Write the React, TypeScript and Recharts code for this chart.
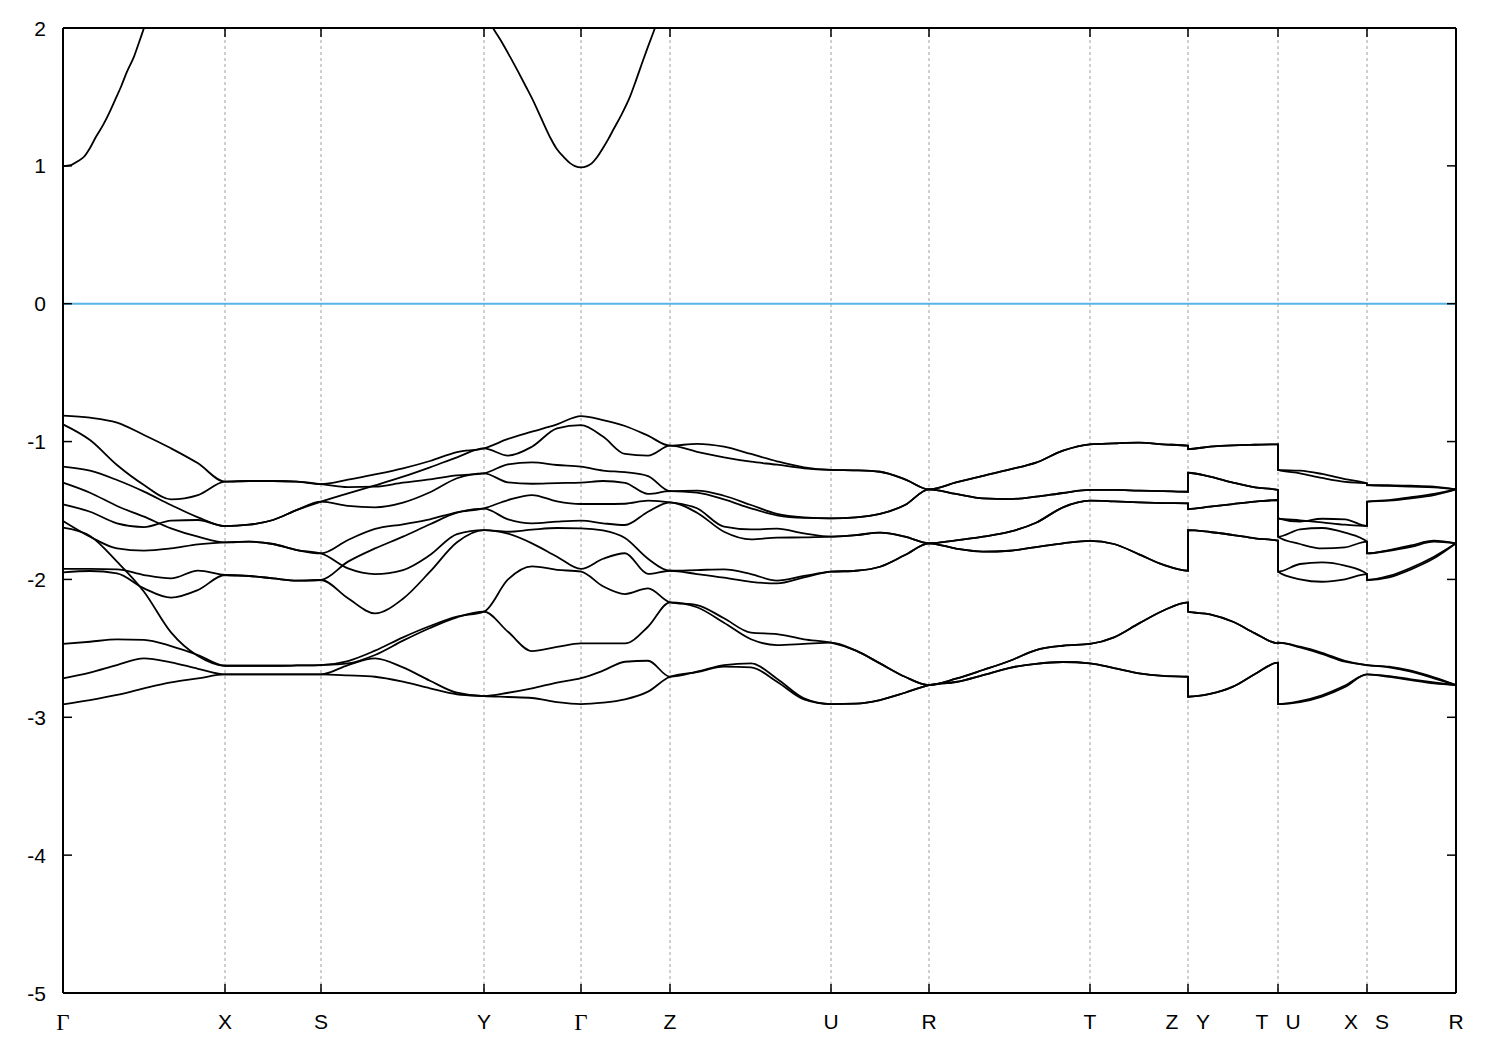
import React from 'react';
import { LineChart, Line, XAxis, YAxis, CartesianGrid, ReferenceLine } from 'recharts';

// High-symmetry points along the k-path (x in path-length units) and their labels
const kTicks = [0, 162, 258, 421, 518, 607, 768, 866, 1027, 1125, 1215, 1304, 1393];
const kLabels = ['Γ', 'X', 'S', 'Y', 'Γ', 'Z', 'U', 'R', 'T', 'Z|Y', 'T|U', 'X|S', 'R'];
const energyTicks = [-5, -4, -3, -2, -1, 0, 1, 2];

// sampled k positions (duplicates = path discontinuities Z|Y, T|U, X|S)
const kPath = [
  0, 27, 54, 81, 108, 135, 162,
  186, 210, 234, 258,
  285, 312, 340, 367, 394, 421,
  445, 469, 494, 518,
  540, 562, 585, 607,
  634, 661, 688, 714, 741, 768,
  793, 817, 842, 866,
  893, 920, 947, 973, 1000, 1027,
  1051, 1076, 1100, 1125,
  1125,
  1147, 1170, 1192, 1215,
  1215,
  1237, 1259, 1282, 1304,
  1304,
  1326, 1348, 1371, 1393,
];

const band1 = [
  -0.812, -0.827, -0.863, -0.952, -1.049, -1.158, -1.291,
  -1.286, -1.286, -1.291, -1.308,
  -1.276, -1.238, -1.194, -1.141, -1.076, -1.049,
  -0.981, -0.928, -0.875, -0.815,
  -0.844, -0.887, -0.957, -1.030,
  -1.016, -1.037, -1.090, -1.143, -1.187, -1.206,
  -1.209, -1.219, -1.274, -1.347,
  -1.296, -1.248, -1.202, -1.153, -1.066, -1.020,
  -1.013, -1.008, -1.020, -1.030,
  -1.054,
  -1.037, -1.027, -1.023, -1.020,
  -1.206,
  -1.211, -1.235, -1.272, -1.303,
  -1.315,
  -1.317, -1.320, -1.327, -1.347,
];
const band2 = [
  -0.875, -0.989, -1.170, -1.315, -1.419, -1.388, -1.291,
  -1.286, -1.286, -1.291, -1.308,
  -1.330, -1.327, -1.298, -1.274, -1.245, -1.230,
  -1.165, -1.151, -1.170, -1.182,
  -1.210, -1.222, -1.250, -1.359,
  -1.356, -1.393, -1.460, -1.525, -1.550, -1.557,
  -1.550, -1.525, -1.460, -1.347,
  -1.380, -1.412, -1.417, -1.400, -1.373, -1.351,
  -1.351, -1.356, -1.359, -1.364,
  -1.226,
  -1.255, -1.298, -1.332, -1.351,
  -1.557,
  -1.571, -1.586, -1.603, -1.612,
  -1.436,
  -1.424, -1.404, -1.380, -1.347,
];
const band3 = [
  -1.182, -1.211, -1.279, -1.363, -1.460, -1.550, -1.613,
  -1.603, -1.569, -1.496, -1.436,
  -1.376, -1.318, -1.255, -1.187, -1.114, -1.050,
  -1.102, -1.037, -0.904, -0.880,
  -0.964, -1.090, -1.102, -1.030,
  -1.074, -1.114, -1.146, -1.168, -1.194, -1.206,
  -1.209, -1.219, -1.274, -1.347,
  -1.296, -1.248, -1.202, -1.153, -1.066, -1.020,
  -1.013, -1.008, -1.020, -1.030,
  -1.054,
  -1.037, -1.027, -1.023, -1.020,
  -1.206,
  -1.230, -1.264, -1.293, -1.303,
  -1.315,
  -1.322, -1.327, -1.332, -1.347,
];
const band4 = [
  -1.298, -1.371, -1.467, -1.545, -1.629, -1.690, -1.731,
  -1.726, -1.743, -1.787, -1.811,
  -1.714, -1.634, -1.600, -1.564, -1.513, -1.484,
  -1.424, -1.388, -1.434, -1.453,
  -1.453, -1.451, -1.429, -1.441,
  -1.484, -1.617, -1.637, -1.632, -1.666, -1.690,
  -1.678, -1.661, -1.690, -1.738,
  -1.717, -1.690, -1.654, -1.589, -1.477, -1.429,
  -1.434, -1.441, -1.446, -1.448,
  -1.489,
  -1.472, -1.453, -1.436, -1.424,
  -1.690,
  -1.637, -1.627, -1.661, -1.726,
  -1.811,
  -1.787, -1.753, -1.719, -1.738,
];
const band5 = [
  -1.455, -1.509, -1.593, -1.620, -1.574, -1.569, -1.613,
  -1.603, -1.569, -1.496, -1.436,
  -1.467, -1.477, -1.443, -1.368, -1.266, -1.230,
  -1.296, -1.306, -1.301, -1.298,
  -1.286, -1.300, -1.380, -1.359,
  -1.371, -1.419, -1.484, -1.535, -1.554, -1.557,
  -1.550, -1.525, -1.460, -1.347,
  -1.380, -1.412, -1.417, -1.400, -1.373, -1.351,
  -1.351, -1.356, -1.359, -1.364,
  -1.226,
  -1.255, -1.298, -1.332, -1.351,
  -1.557,
  -1.581, -1.560, -1.564, -1.612,
  -1.436,
  -1.429, -1.412, -1.388, -1.347,
];
const band6 = [
  -1.576, -1.690, -1.775, -1.791, -1.775, -1.745, -1.731,
  -1.726, -1.743, -1.787, -1.811,
  -1.920, -1.961, -1.932, -1.823, -1.671, -1.642,
  -1.654, -1.639, -1.627, -1.629,
  -1.645, -1.700, -1.850, -1.937,
  -1.932, -1.927, -1.961, -2.009, -1.975, -1.944,
  -1.937, -1.908, -1.823, -1.738,
  -1.777, -1.799, -1.792, -1.765, -1.738, -1.721,
  -1.743, -1.818, -1.893, -1.937,
  -1.642,
  -1.656, -1.678, -1.702, -1.719,
  -1.944,
  -1.888, -1.876, -1.900, -1.961,
  -2.004,
  -1.975, -1.915, -1.835, -1.738,
];
const band7 = [
  -1.625, -1.685, -1.871, -2.089, -2.384, -2.556, -2.626,
  -2.626, -2.626, -2.624, -2.621,
  -2.592, -2.517, -2.420, -2.338, -2.270, -2.234,
  -2.000, -1.905, -1.930, -1.944,
  -2.050, -2.106, -2.065, -2.166,
  -2.186, -2.282, -2.386, -2.396, -2.435, -2.459,
  -2.517, -2.609, -2.706, -2.766,
  -2.720, -2.657, -2.590, -2.512, -2.481, -2.468,
  -2.420, -2.319, -2.227, -2.166,
  -2.234,
  -2.253, -2.307, -2.391, -2.464,
  -2.459,
  -2.488, -2.532, -2.590, -2.621,
  -2.621,
  -2.638, -2.669, -2.718, -2.766,
];
const band8 = [
  -1.924, -1.924, -1.927, -1.968, -1.992, -1.936, -1.968,
  -1.975, -1.992, -2.009, -2.004,
  -1.871, -1.775, -1.690, -1.600, -1.516, -1.487,
  -1.564, -1.593, -1.581, -1.574,
  -1.593, -1.605, -1.509, -1.441,
  -1.516, -1.654, -1.709, -1.697, -1.695, -1.690,
  -1.678, -1.661, -1.690, -1.738,
  -1.717, -1.690, -1.654, -1.589, -1.477, -1.429,
  -1.434, -1.441, -1.446, -1.448,
  -1.489,
  -1.472, -1.453, -1.436, -1.424,
  -1.690,
  -1.743, -1.775, -1.767, -1.726,
  -1.811,
  -1.792, -1.763, -1.726, -1.738,
];
const band9 = [
  -1.949, -1.939, -1.956, -2.065, -2.132, -2.077, -1.968,
  -1.975, -1.992, -2.009, -2.004,
  -2.137, -2.246, -2.140, -1.944, -1.730, -1.642,
  -1.668, -1.738, -1.835, -1.924,
  -1.850, -1.810, -1.960, -1.937,
  -1.961, -1.987, -2.017, -2.029, -1.985, -1.944,
  -1.937, -1.908, -1.823, -1.738,
  -1.777, -1.799, -1.792, -1.765, -1.738, -1.721,
  -1.743, -1.818, -1.893, -1.937,
  -1.642,
  -1.656, -1.678, -1.702, -1.719,
  -1.944,
  -1.999, -2.017, -1.999, -1.961,
  -2.004,
  -1.985, -1.927, -1.847, -1.738,
];
const band10 = [
  -2.468, -2.452, -2.435, -2.439, -2.483, -2.548, -2.626,
  -2.626, -2.626, -2.624, -2.621,
  -2.609, -2.548, -2.444, -2.352, -2.275, -2.234,
  -2.380, -2.520, -2.490, -2.464,
  -2.464, -2.464, -2.343, -2.166,
  -2.202, -2.314, -2.434, -2.476, -2.468, -2.459,
  -2.517, -2.609, -2.706, -2.766,
  -2.720, -2.657, -2.590, -2.512, -2.481, -2.468,
  -2.420, -2.319, -2.227, -2.166,
  -2.234,
  -2.253, -2.307, -2.391, -2.464,
  -2.459,
  -2.493, -2.541, -2.597, -2.621,
  -2.621,
  -2.633, -2.662, -2.710, -2.766,
];
const band11 = [
  -2.718, -2.676, -2.621, -2.572, -2.601, -2.648, -2.689,
  -2.689, -2.689, -2.689, -2.689,
  -2.621, -2.572, -2.638, -2.735, -2.822, -2.846,
  -2.822, -2.790, -2.748, -2.716,
  -2.662, -2.597, -2.590, -2.706,
  -2.669, -2.621, -2.609, -2.720, -2.862, -2.904,
  -2.901, -2.875, -2.822, -2.766,
  -2.744, -2.694, -2.641, -2.612, -2.599, -2.609,
  -2.643, -2.681, -2.700, -2.706,
  -2.851,
  -2.831, -2.778, -2.686, -2.604,
  -2.904,
  -2.882, -2.840, -2.770, -2.689,
  -2.689,
  -2.701, -2.725, -2.747, -2.766,
];
const band12 = [
  -2.906, -2.875, -2.838, -2.790, -2.747, -2.718, -2.689,
  -2.689, -2.689, -2.689, -2.689,
  -2.696, -2.706, -2.742, -2.790, -2.833, -2.846,
  -2.853, -2.860, -2.890, -2.904,
  -2.894, -2.870, -2.814, -2.706,
  -2.672, -2.633, -2.638, -2.742, -2.870, -2.904,
  -2.901, -2.875, -2.822, -2.766,
  -2.744, -2.694, -2.641, -2.612, -2.599, -2.609,
  -2.643, -2.681, -2.700, -2.706,
  -2.851,
  -2.831, -2.778, -2.686, -2.604,
  -2.904,
  -2.890, -2.850, -2.780, -2.689,
  -2.689,
  -2.706, -2.730, -2.754, -2.766,
];

// conduction band (only its lower part is inside the window)
const cbK = [
  0, 8, 14, 21, 27, 33, 40, 46, 52, 58, 64, 71, 76, 81, 97, 162, 258, 421,
  430, 439, 447, 455, 463, 470, 476, 482, 488, 494, 501, 507, 512, 518,
  524, 529, 534, 540, 545, 550, 558, 567, 573, 579, 585, 592, 607,
];
const cbE = [
  0.998, 1.006, 1.03, 1.066, 1.13, 1.211, 1.295, 1.381, 1.477, 1.574, 1.683, 1.792, 1.895, 2.0, 2.33, 3.1, 3.3, 2.12,
  2.0, 1.895, 1.792, 1.685, 1.574, 1.475, 1.381, 1.285, 1.195, 1.12, 1.062, 1.02, 0.998, 0.989,
  0.998, 1.02, 1.062, 1.13, 1.19, 1.258, 1.365, 1.502, 1.62, 1.744, 1.865, 2.0, 2.3,
];

const valenceBands = [band1, band2, band3, band4, band5, band6, band7, band8, band9, band10, band11, band12];

const rows = kPath.map((x, i) => {
  const r: Record<string, number> = { x };
  valenceBands.forEach((b, j) => {
    r['b' + (j + 1)] = b[i];
  });
  return r;
});
const cbRows = cbK.map((x, i) => ({ x, e: cbE[i] }));

const SANS = '"Liberation Sans", Arial, Helvetica, sans-serif';
const SERIF = '"Liberation Serif", "Times New Roman", serif';

function KTick(props: any) {
  const { x, y, payload } = props;
  const idx = kTicks.indexOf(payload.value);
  const label = idx >= 0 ? kLabels[idx] : '';
  const parts = label.split('|');
  const draw = (t: string, dx: number, key: string) => (
    <text
      key={key}
      x={x + dx}
      y={y}
      dy="0.71em"
      textAnchor="middle"
      fontSize={t === 'Γ' ? 23 : 21}
      fontFamily={t === 'Γ' ? SERIF : SANS}
      fill="#000"
    >
      {t}
    </text>
  );
  return (
    <g>
      {parts.length === 2 ? [draw(parts[0], -16, 'a'), draw(parts[1], 15, 'b')] : draw(parts[0], 0, 'a')}
    </g>
  );
}

function ETick(props: any) {
  const { x, y, payload } = props;
  return (
    <text x={x} y={y} dy="0.36em" textAnchor="end" fontSize={21} fontFamily={SANS} fill="#000">
      {payload.value}
    </text>
  );
}

const NoTick = () => <g />;

const axisStroke = { stroke: '#000', strokeWidth: 2 };
const tickStroke = { stroke: '#000', strokeWidth: 1.5 };

export default function App() {
  return (
    <div style={{ position: 'absolute', left: 0, top: 0, width: 1500, height: 1050, background: '#fff' }}>
      <LineChart width={1500} height={1050} data={rows} margin={{ top: 27, right: 43, bottom: 27, left: 0 }}>
        <CartesianGrid horizontal={false} stroke="#a0a0a0" strokeDasharray="3 3" strokeWidth={1} />
        <ReferenceLine y={0} stroke="#56b4e9" strokeWidth={2} ifOverflow="hidden" />
        {valenceBands.map((_, j) => (
          <Line
            key={'b' + (j + 1)}
            type="monotone"
            dataKey={'b' + (j + 1)}
            stroke="#000"
            strokeWidth={1.8}
            dot={false}
            activeDot={false}
            isAnimationActive={false}
          />
        ))}
        <Line
          data={cbRows}
          xAxisId="top"
          yAxisId="right"
          type="monotone"
          dataKey="e"
          stroke="#000"
          strokeWidth={1.8}
          dot={false}
          activeDot={false}
          isAnimationActive={false}
        />
        <XAxis
          dataKey="x"
          type="number"
          domain={[0, 1393]}
          ticks={kTicks}
          interval={0}
          height={30}
          tickSize={-9}
          tickMargin={30}
          tick={<KTick />}
          axisLine={axisStroke}
          tickLine={tickStroke}
        />
        <XAxis
          xAxisId="top"
          orientation="top"
          dataKey="x"
          type="number"
          domain={[0, 1393]}
          ticks={kTicks}
          interval={0}
          height={1}
          tickSize={-9}
          tick={NoTick}
          axisLine={axisStroke}
          tickLine={tickStroke}
        />
        <YAxis
          type="number"
          domain={[-5, 2]}
          ticks={energyTicks}
          interval={0}
          width={63}
          tickSize={-9}
          tickMargin={26}
          tick={<ETick />}
          allowDataOverflow
          axisLine={axisStroke}
          tickLine={tickStroke}
        />
        <YAxis
          yAxisId="right"
          orientation="right"
          type="number"
          domain={[-5, 2]}
          ticks={energyTicks}
          interval={0}
          width={1}
          tickSize={-9}
          tick={NoTick}
          allowDataOverflow
          axisLine={axisStroke}
          tickLine={tickStroke}
        />
      </LineChart>
    </div>
  );
}
